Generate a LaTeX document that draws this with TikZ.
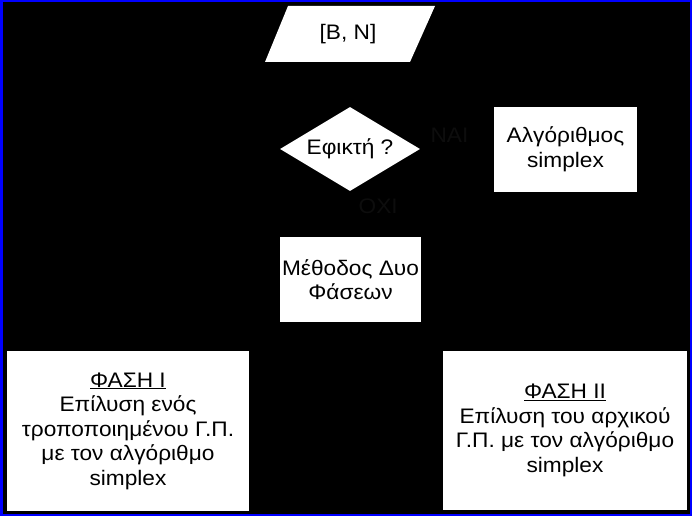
\documentclass[tikz,border=0pt]{standalone}
\usepackage{fontspec}
\setmainfont{Liberation Sans}[FakeStretch=1.08]
\usetikzlibrary{shapes.geometric}
\definecolor{labelgray}{gray}{0.05}
\definecolor{framblue}{RGB}{0,0,255}
\begin{document}
\begin{tikzpicture}[x=1pt,y=-1pt,
  txt/.style={font=\fontsize{21}{24.5}\selectfont},
  shapebox/.style={txt, fill=white, draw=none, inner sep=0pt, align=center},
  link/.style={draw=black, -latex, line width=1pt},
  edgelabel/.style={txt, text=labelgray, inner sep=0pt}
]
\useasboundingbox (0,0) rectangle (692,516);
\fill[black] (0,0) rectangle (692,516);
\draw[framblue, line width=2.5pt] (1.25,1.25) rectangle (690.75,514.75);

% input parallelogram
\fill[white] (288,6) -- (435,6) -- (410,62) -- (265,62) -- cycle;
\node[txt, inner sep=0pt, minimum width=145pt, minimum height=56pt] (in) at (348,34) {[B, N]};

% decision
\node[shapebox, diamond, aspect=1.67, minimum width=140pt, minimum height=84pt] (dec) at (350,149) {Εφικτή ?};

% boxes
\node[shapebox, minimum width=143pt, minimum height=85pt] (alg) at (565.5,149.5) {Αλγόριθμος\\simplex};
\node[shapebox, minimum width=141pt, minimum height=85pt] (meth) at (350.5,279.5) {Μέθοδος Δυο\\Φάσεων};
\node[shapebox, minimum width=242pt, minimum height=160pt] (p1) at (128,431)
  {\underline{ΦΑΣΗ I}\\Επίλυση ενός\\τροποποιημένου Γ.Π.\\με τον αλγόριθμο\\simplex};
\node[shapebox, minimum width=244pt, minimum height=159pt] (p2) at (565,430.5)
  {\underline{ΦΑΣΗ II}\\Επίλυση του αρχικού\\Γ.Π. με τον αλγόριθμο\\simplex};

% connectors (black on black)
\draw[link] (in) -- (dec);
\draw[link] (dec) -- node[edgelabel, above=6pt, pos=0.4] {ΝΑΙ} (alg);
\draw[link] (dec) -- node[edgelabel, right=8pt, pos=0.33] {ΟΧΙ} (meth);
\draw[link] (meth) -| (p1);
\draw[link] (p1) -- (p2);
\end{tikzpicture}
\end{document}
